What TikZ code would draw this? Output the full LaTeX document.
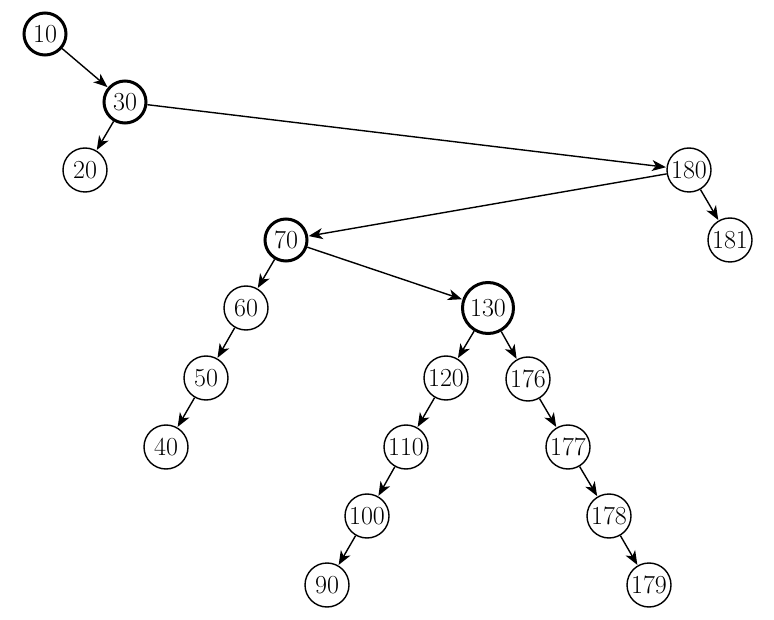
\documentclass[tikz,border=0pt]{standalone}
\usepackage{fontspec}
\usetikzlibrary{arrows.meta}
\tikzset{
  nd/.style={circle,draw,line width=1.4pt,minimum size=44pt,inner sep=0.5pt,font=\fontsize{26}{30}\selectfont},
  ndthick/.style={nd,line width=3pt,minimum size=42pt},
  ndbig/.style={nd,line width=3pt,minimum size=51pt},
  edge/.style={line width=1.4pt,-{Stealth[length=14pt,width=11pt,inset=4pt]},shorten >=0.5pt}
}
\begin{document}
\begin{tikzpicture}[x=1pt,y=-1pt]
\useasboundingbox (0,0) rectangle (774,620);
\node[ndthick] (n10) at (45,34) {10};
\node[ndthick] (n30) at (125,102) {30};
\node[nd] (n20) at (85,170) {20};
\node[nd] (n180) at (689,170) {180};
\node[nd] (n181) at (730,240) {181};
\node[ndthick] (n70) at (286,240) {70};
\node[nd] (n60) at (246,308) {60};
\node[ndbig] (n130) at (488,308) {130};
\node[nd] (n50) at (206,378) {50};
\node[nd] (n40) at (166,447) {40};
\node[nd] (n120) at (446,378) {120};
\node[nd] (n176) at (528,379) {176};
\node[nd] (n110) at (406,447) {110};
\node[nd] (n177) at (568,447) {177};
\node[nd] (n100) at (367,516) {100};
\node[nd] (n178) at (609,516) {178};
\node[nd] (n90) at (327,585) {90};
\node[nd] (n179) at (649,585) {179};
\draw[edge] (n10) -- (n30);
\draw[edge] (n30) -- (n20);
\draw[edge] (n30) -- (n180);
\draw[edge] (n180) -- (n70);
\draw[edge] (n180) -- (n181);
\draw[edge] (n70) -- (n60);
\draw[edge] (n70) -- (n130);
\draw[edge] (n60) -- (n50);
\draw[edge] (n50) -- (n40);
\draw[edge] (n130) -- (n120);
\draw[edge] (n130) -- (n176);
\draw[edge] (n120) -- (n110);
\draw[edge] (n110) -- (n100);
\draw[edge] (n100) -- (n90);
\draw[edge] (n176) -- (n177);
\draw[edge] (n177) -- (n178);
\draw[edge] (n178) -- (n179);
\end{tikzpicture}
\end{document}
